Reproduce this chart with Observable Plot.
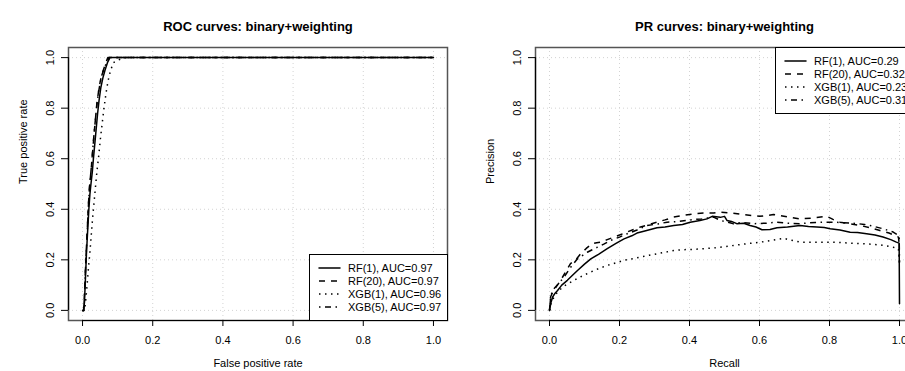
<!DOCTYPE html>
<html>
<head>
<meta charset="utf-8">
<script src="https://cdn.jsdelivr.net/npm/d3@7"></script>
<script src="https://cdn.jsdelivr.net/npm/@observablehq/plot@0.6"></script>
<style>
html, body { margin: 0; padding: 0; background: #fff; }
body { width: 905px; height: 371px; overflow: hidden; position: relative; font-family: "Liberation Sans", Arial, sans-serif; }
.panel { position: absolute; top: 0; }
.panel svg { max-width: none !important; }
.legend { position: absolute; overflow: visible; }
</style>
</head>
<body>
<div id="roc" class="panel" style="left:0px;width:452px"></div>
<div id="pr" class="panel" style="left:452px;width:470px"></div>
<script>
// ---------- data ----------
const models = ["RF(1)", "RF(20)", "XGB(1)", "XGB(5)"];
const rocAUC = ["0.97", "0.97", "0.96", "0.97"];
const prAUC = ["0.29", "0.32", "0.23", "0.31"];
const ticks = [0, 0.2, 0.4, 0.6, 0.8, 1.0];
const tickLabels = ["0.0", "0.2", "0.4", "0.6", "0.8", "1.0"];

// ROC curves (false positive rate, true positive rate)
const rocRF1Fpr = [0, 0.004, 0.006, 0.009, 0.011, 0.014, 0.018, 0.021, 0.024, 0.028, 0.031, 0.035, 0.039, 0.043, 0.047, 0.052, 0.058, 0.064, 0.071, 0.078, 0.2, 0.5, 0.8, 1.0];
const rocRF1Tpr = [0, 0, 0.05, 0.15, 0.22, 0.30, 0.40, 0.46, 0.50, 0.55, 0.60, 0.66, 0.72, 0.78, 0.83, 0.88, 0.92, 0.95, 0.98, 1.0, 1.0, 1.0, 1.0, 1.0];
const rocRF20Fpr = [0, 0.003, 0.005, 0.008, 0.010, 0.013, 0.016, 0.019, 0.022, 0.026, 0.029, 0.033, 0.037, 0.041, 0.046, 0.051, 0.057, 0.064, 0.072, 0.1, 0.5, 1.0];
const rocRF20Tpr = [0, 0, 0.05, 0.15, 0.22, 0.30, 0.40, 0.47, 0.52, 0.58, 0.63, 0.70, 0.76, 0.82, 0.87, 0.91, 0.94, 0.97, 1.0, 1.0, 1.0, 1.0];
const rocXGB1Fpr = [0, 0.006, 0.009, 0.013, 0.017, 0.021, 0.025, 0.029, 0.033, 0.037, 0.041, 0.046, 0.051, 0.056, 0.061, 0.067, 0.073, 0.080, 0.088, 0.100, 0.123, 0.5, 1.0];
const rocXGB1Tpr = [0, 0, 0.04, 0.10, 0.17, 0.23, 0.30, 0.37, 0.43, 0.49, 0.55, 0.61, 0.68, 0.74, 0.80, 0.86, 0.91, 0.95, 0.98, 0.99, 1.0, 1.0, 1.0];
const rocXGB5Fpr = [0, 0.004, 0.006, 0.008, 0.011, 0.014, 0.017, 0.020, 0.024, 0.027, 0.031, 0.035, 0.039, 0.044, 0.049, 0.055, 0.062, 0.069, 0.076, 0.5, 1.0];
const rocXGB5Tpr = [0, 0, 0.06, 0.15, 0.24, 0.33, 0.42, 0.49, 0.55, 0.60, 0.67, 0.73, 0.79, 0.85, 0.89, 0.93, 0.96, 0.98, 1.0, 1.0, 1.0];

// PR curves (recall, precision)
const prRF1Rec = [0, 0.004, 0.009, 0.016, 0.023, 0.035, 0.051, 0.065, 0.08, 0.1, 0.118, 0.14, 0.165, 0.19, 0.213, 0.235, 0.25, 0.275, 0.307, 0.33, 0.355, 0.38, 0.402, 0.43, 0.45, 0.465, 0.488, 0.5, 0.507, 0.52, 0.535, 0.555, 0.573, 0.59, 0.607, 0.63, 0.65, 0.68, 0.716, 0.74, 0.764, 0.785, 0.802, 0.83, 0.859, 0.88, 0.906, 0.93, 0.953, 0.975, 0.991, 0.999, 1.0];
const prRF1Prec = [0, 0.03, 0.053, 0.068, 0.079, 0.1, 0.119, 0.138, 0.158, 0.183, 0.204, 0.222, 0.244, 0.265, 0.283, 0.295, 0.306, 0.315, 0.327, 0.33, 0.336, 0.34, 0.349, 0.356, 0.362, 0.372, 0.368, 0.372, 0.356, 0.352, 0.343, 0.345, 0.336, 0.33, 0.319, 0.32, 0.327, 0.33, 0.336, 0.332, 0.33, 0.328, 0.323, 0.318, 0.309, 0.308, 0.303, 0.298, 0.29, 0.28, 0.27, 0.266, 0.026];
const prRF20Rec = [0, 0.003, 0.01, 0.02, 0.032, 0.045, 0.06, 0.075, 0.089, 0.105, 0.122, 0.135, 0.146, 0.165, 0.184, 0.2, 0.222, 0.24, 0.26, 0.28, 0.307, 0.33, 0.355, 0.38, 0.412, 0.44, 0.469, 0.488, 0.52, 0.554, 0.6, 0.64, 0.68, 0.716, 0.75, 0.792, 0.81, 0.83, 0.86, 0.887, 0.92, 0.944, 0.97, 0.997, 1.0];
const prRF20Prec = [0, 0.053, 0.075, 0.095, 0.119, 0.15, 0.185, 0.2, 0.224, 0.245, 0.264, 0.268, 0.27, 0.28, 0.29, 0.298, 0.31, 0.32, 0.33, 0.338, 0.349, 0.358, 0.369, 0.375, 0.382, 0.385, 0.385, 0.389, 0.385, 0.379, 0.372, 0.379, 0.37, 0.362, 0.365, 0.372, 0.36, 0.349, 0.342, 0.336, 0.326, 0.316, 0.306, 0.29, 0.25];
const prXGB1Rec = [0, 0.005, 0.012, 0.023, 0.04, 0.07, 0.095, 0.118, 0.14, 0.165, 0.19, 0.213, 0.24, 0.26, 0.285, 0.307, 0.33, 0.355, 0.38, 0.402, 0.43, 0.469, 0.5, 0.526, 0.56, 0.602, 0.64, 0.669, 0.69, 0.716, 0.76, 0.811, 0.86, 0.906, 0.95, 0.982, 0.997, 1.0];
const prXGB1Prec = [0, 0.03, 0.05, 0.073, 0.095, 0.119, 0.137, 0.152, 0.165, 0.178, 0.188, 0.198, 0.205, 0.211, 0.218, 0.224, 0.23, 0.237, 0.24, 0.241, 0.243, 0.247, 0.252, 0.257, 0.263, 0.27, 0.278, 0.285, 0.278, 0.27, 0.27, 0.27, 0.266, 0.263, 0.258, 0.25, 0.243, 0.185];
const prXGB5Rec = [0, 0.004, 0.012, 0.025, 0.042, 0.06, 0.08, 0.095, 0.108, 0.122, 0.137, 0.155, 0.175, 0.2, 0.222, 0.25, 0.279, 0.31, 0.336, 0.37, 0.402, 0.435, 0.469, 0.488, 0.526, 0.55, 0.583, 0.62, 0.65, 0.68, 0.716, 0.76, 0.811, 0.84, 0.868, 0.9, 0.925, 0.955, 0.982, 0.999, 1.0];
const prXGB5Prec = [0, 0.06, 0.085, 0.105, 0.132, 0.17, 0.204, 0.218, 0.23, 0.24, 0.25, 0.262, 0.277, 0.29, 0.303, 0.318, 0.336, 0.342, 0.349, 0.352, 0.358, 0.362, 0.369, 0.356, 0.343, 0.348, 0.343, 0.345, 0.349, 0.345, 0.343, 0.348, 0.349, 0.347, 0.345, 0.34, 0.333, 0.322, 0.31, 0.295, 0.19];

// ---------- styles ----------
const FONT = "'Liberation Sans', Arial, Helvetica, sans-serif";
const domain = [-0.04, 1.04];
const lineStyles = [
  {dash: null, cap: "round"},
  {dash: "6,6", cap: "butt"},
  {dash: "1.5,4.5", cap: "butt"},
  {dash: "1.5,4.5,6,4.5", cap: "butt"}
];

function toRows(xs, ys) { return xs.map((x, i) => ({x, y: ys[i]})); }

function panel({series, title, xLabel, yLabel, width, marginLeft, marginRight}) {
  const grid = {stroke: "#d3d3d3", strokeOpacity: 1, strokeWidth: 1, strokeDasharray: "1,3"};
  const t0 = ticks[0], t1 = ticks[ticks.length - 1];
  return Plot.plot({
    width, height: 371,
    marginLeft, marginRight, marginTop: 47, marginBottom: 51,
    x: {domain},
    y: {domain},
    style: {fontFamily: FONT, fontSize: "11px", color: "#000", background: "#fff", overflow: "visible", maxWidth: "none"},
    marks: [
      Plot.gridX(ticks, grid),
      Plot.gridY(ticks, grid),
      ...series.map((s, i) => Plot.line(s, {
        x: "x", y: "y", stroke: "#000", strokeWidth: 1.5,
        strokeDasharray: lineStyles[i].dash || undefined,
        strokeLinecap: lineStyles[i].cap, strokeLinejoin: "round"
      })),
      Plot.frame({stroke: "#555", strokeWidth: 1.5}),
      // R-style axis lines spanning the first to the last tick
      Plot.ruleY([domain[0]], {x1: t0, x2: t1, stroke: "#000", strokeWidth: 1.2}),
      Plot.ruleX([domain[0]], {y1: t0, y2: t1, stroke: "#000", strokeWidth: 1.2}),
      Plot.axisX(ticks, {tickSize: 6, tickPadding: 10, tickFormat: (d, i) => tickLabels[i], label: null, fontSize: 11}),
      Plot.axisY(ticks, {tickSize: 7, tickPadding: 8, tickRotate: -90, tickFormat: (d, i) => tickLabels[i], label: null, fontSize: 11}),
      Plot.text([title], {text: d => d, frameAnchor: "top", dy: -26, fontWeight: "bold", fontSize: 13}),
      Plot.text([xLabel], {text: d => d, frameAnchor: "bottom", dy: 46, fontSize: 11}),
      Plot.text([yLabel], {text: d => d, frameAnchor: "left", dx: -45, rotate: -90, fontSize: 11})
    ]
  });
}

const rocSeries = [
  toRows(rocRF1Fpr, rocRF1Tpr),
  toRows(rocRF20Fpr, rocRF20Tpr),
  toRows(rocXGB1Fpr, rocXGB1Tpr),
  toRows(rocXGB5Fpr, rocXGB5Tpr)
];
const prSeries = [
  toRows(prRF1Rec, prRF1Prec),
  toRows(prRF20Rec, prRF20Prec),
  toRows(prXGB1Rec, prXGB1Prec),
  toRows(prXGB5Rec, prXGB5Prec)
];

document.getElementById("roc").append(panel({
  series: rocSeries, title: "ROC curves: binary+weighting",
  xLabel: "False positive rate", yLabel: "True positive rate",
  width: 452, marginLeft: 68, marginRight: 5
}));
document.getElementById("pr").append(panel({
  series: prSeries, title: "PR curves: binary+weighting",
  xLabel: "Recall", yLabel: "Precision",
  width: 470, marginLeft: 83, marginRight: 9
}));

// ---------- legends ----------
function addLegend(left, top, labels) {
  const w = 138, h = 66;
  const svg = d3.select("body").append("svg")
    .attr("class", "legend")
    .style("left", left + "px").style("top", top + "px")
    .attr("width", w + 1).attr("height", h + 1);
  svg.append("rect").attr("x", 0.5).attr("y", 0.5).attr("width", w).attr("height", h)
    .attr("fill", "#fff").attr("stroke", "#000").attr("stroke-width", 1);
  labels.forEach((lab, i) => {
    const y = 14 + i * 13;
    const st = lineStyles[i];
    const ln = svg.append("line").attr("x1", 10).attr("x2", 31).attr("y1", y).attr("y2", y)
      .attr("stroke", "#000").attr("stroke-width", 1.5).attr("stroke-linecap", st.cap);
    if (st.dash) ln.attr("stroke-dasharray", st.dash);
    svg.append("text").attr("x", 39).attr("y", y).attr("dy", "0.35em")
      .attr("font-family", FONT).attr("font-size", 11).attr("fill", "#000").text(lab);
  });
}
addLegend(309, 254, models.map((m, i) => `${m}, AUC=${rocAUC[i]}`));
addLegend(775, 47, models.map((m, i) => `${m}, AUC=${prAUC[i]}`));
</script>
</body>
</html>
